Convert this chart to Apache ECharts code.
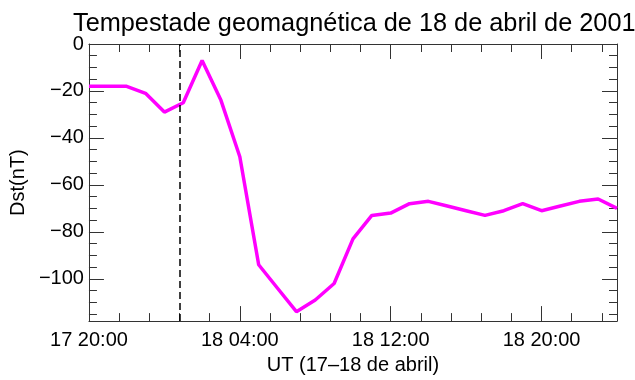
<!DOCTYPE html>
<html>
<head>
<meta charset="utf-8">
<script src="https://cdn.jsdelivr.net/npm/echarts@6/dist/echarts.min.js"></script>
<style>
  html, body { margin: 0; padding: 0; background: #fff; }
  #chart { width: 635px; height: 380px; }
</style>
</head>
<body>
<div id="chart"></div>
<script>
// Hourly Dst index, 17-18 April 2001 (day HH:MM, UT)
const times = [
  '17 20:00', '17 21:00', '17 22:00', '17 23:00', '18 00:00', '18 01:00',
  '18 02:00', '18 03:00', '18 04:00', '18 05:00', '18 06:00', '18 07:00',
  '18 08:00', '18 09:00', '18 10:00', '18 11:00', '18 12:00', '18 13:00',
  '18 14:00', '18 15:00', '18 16:00', '18 17:00', '18 18:00', '18 19:00',
  '18 20:00', '18 21:00', '18 22:00', '18 23:00', '19 00:00'
];
const dst = [
  -18, -18, -18, -21, -29, -25,
  -7, -24, -48, -94, -104, -114,
  -109, -102, -83, -73, -72, -68,
  -67, -69, -71, -73, -71, -68,
  -71, -69, -67, -66, -70
];

// Storm sudden commencement marker
const sscTime = '18 00:48';

// Axis ranges and tick labels
const xStart = '17 20:00';
const xEnd = '19 00:00';
const xTickLabels = ['17 20:00', '18 04:00', '18 12:00', '18 20:00'];
const xMinorStepHours = 1.6;
const yMin = -118;
const yMax = 0;
const yTickLabels = [0, -20, -40, -60, -80, -100];
const yMinorStep = 5;

// hours elapsed since the start of the plotted interval
function toHours(s) {
  const [d, hm] = s.split(' ');
  const [H, M] = hm.split(':');
  return (Number(d) - 17) * 24 + Number(H) + Number(M) / 60 - 20;
}

const x0 = toHours(xStart);
const x1 = toHours(xEnd);
const xMajor = xTickLabels.map(toHours);
const xMinor = [];
for (let k = 1; x0 + k * xMinorStepHours < x1 - 1e-6; k++) {
  const v = +(x0 + k * xMinorStepHours).toFixed(4);
  if (!xMajor.some(m => Math.abs(m - v) < 1e-6)) xMinor.push(v);
}
const yMinor = [];
for (let v = yMax - yMinorStep; v > yMin; v -= yMinorStep) {
  if (!yTickLabels.includes(v)) yMinor.push(v);
}

const labelOf = {};
xTickLabels.forEach(s => { labelOf[toHours(s)] = s; });

const seriesData = times.map((t, i) => [toHours(t), dst[i]]);

const FONT = 'Liberation Sans, Arial, Helvetica, sans-serif';
const INK = '#000';
const FRAME = '#333';

function xAx(position, ticks, len, withLabels, withLine) {
  const ax = {
    type: 'value', position, min: x0, max: x1,
    splitLine: { show: false },
    axisLine: { show: withLine, onZero: false, lineStyle: { color: FRAME, width: 1 } },
    axisTick: { show: true, inside: true, length: len, customValues: ticks,
                lineStyle: { color: FRAME, width: 1 } },
    axisLabel: { show: false }
  };
  if (withLabels) {
    ax.axisLabel = {
      show: true, customValues: xMajor, margin: 9,
      color: INK, fontSize: 20, fontFamily: FONT,
      formatter: v => labelOf[v] || ''
    };
    ax.name = 'UT (17\u201318 de abril)';
    ax.nameLocation = 'middle';
    ax.nameGap = 33;
    ax.nameTextStyle = { color: INK, fontSize: 20, fontFamily: FONT };
  }
  return ax;
}

function yAx(position, ticks, len, withLabels, withLine) {
  const ax = {
    type: 'value', position, min: yMin, max: yMax,
    splitLine: { show: false },
    axisLine: { show: withLine, onZero: false, lineStyle: { color: FRAME, width: 1 } },
    axisTick: { show: true, inside: true, length: len, customValues: ticks,
                lineStyle: { color: FRAME, width: 1 } },
    axisLabel: { show: false }
  };
  if (withLabels) {
    ax.axisLabel = {
      show: true, customValues: yTickLabels, margin: 5,
      color: INK, fontSize: 20, fontFamily: FONT,
      formatter: v => String(v).replace('-', '\u2212')
    };
    ax.name = 'Dst(nT)';
    ax.nameLocation = 'middle';
    ax.nameGap = 58;
    ax.nameTextStyle = { color: INK, fontSize: 20, fontFamily: FONT };
  }
  return ax;
}

const chart = echarts.init(document.getElementById('chart'), null, { renderer: 'canvas' });
chart.setOption({
  animation: false,
  backgroundColor: '#fff',
  title: {
    text: 'Tempestade geomagn\u00e9tica de 18 de abril de 2001',
    left: 68, top: 7,
    textStyle: { color: INK, fontSize: 25.3, fontWeight: 'normal', fontFamily: FONT }
  },
  grid: { left: 88, right: 18, top: 44, bottom: 52, containLabel: false },
  xAxis: [
    xAx('bottom', xMajor, 15, true, true),
    xAx('bottom', xMinor, 8, false, false),
    xAx('top', xMajor, 15, false, true),
    xAx('top', xMinor, 8, false, false)
  ],
  yAxis: [
    yAx('left', yTickLabels, 15, true, true),
    yAx('left', yMinor, 8, false, false),
    yAx('right', yTickLabels, 15, false, true),
    yAx('right', yMinor, 8, false, false)
  ],
  series: [{
    type: 'line',
    xAxisIndex: 0, yAxisIndex: 0,
    data: seriesData,
    showSymbol: false,
    symbol: 'none',
    lineStyle: { color: '#ff00ff', width: 3.5 },
    markLine: {
      silent: true,
      symbol: ['none', 'none'],
      label: { show: false },
      lineStyle: { color: '#000', width: 1.5, type: [7, 4] },
      data: [{ xAxis: toHours(sscTime) }]
    }
  }]
});
</script>
</body>
</html>
